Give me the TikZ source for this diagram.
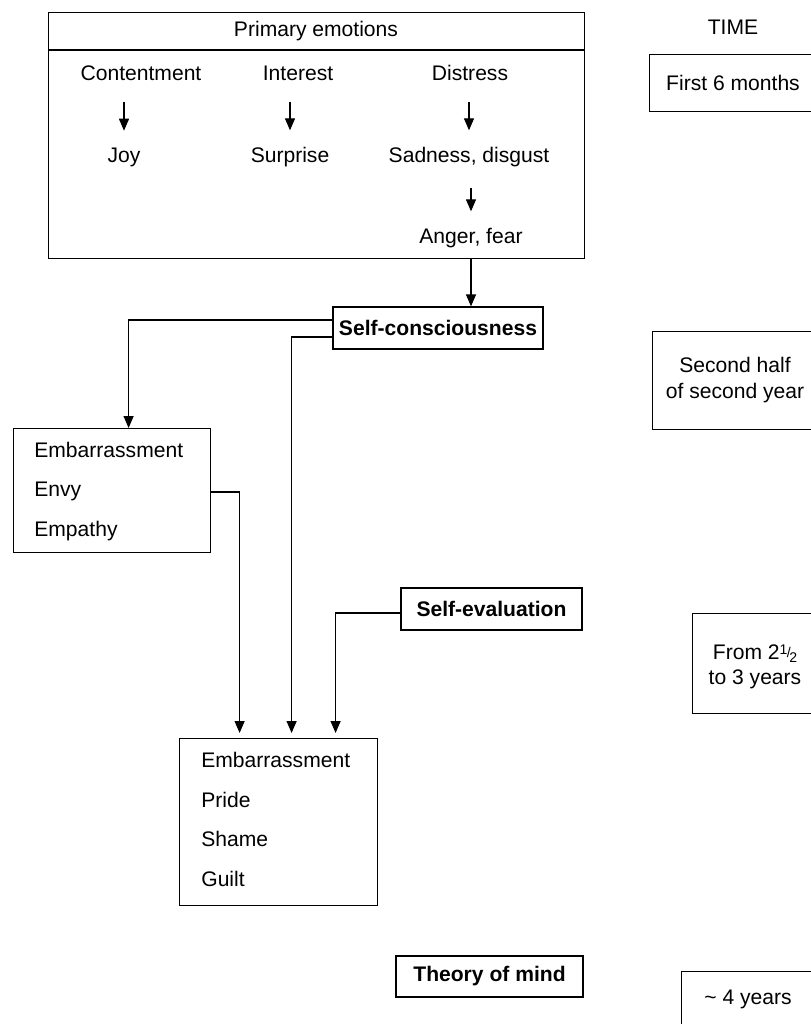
\documentclass[tikz,border=0pt]{standalone}
\usepackage{fontspec}
\setmainfont{Liberation Sans}
\usetikzlibrary{arrows.meta,positioning}

\tikzset{
  txt/.style={inner sep=0pt, font=\fontsize{12}{14.4}\selectfont},
  boldtxt/.style={inner sep=0pt, font=\fontsize{12}{14.4}\selectfont\bfseries},
  box/.style={draw, line width=0.7pt, inner sep=0pt},
  conn/.style={line width=0.7pt},
  arr/.style={line width=0.7pt, -{Triangle[length=0.24cm,width=0.2cm]}},
  inarr/.style={arr, shorten <=0.42cm, shorten >=0.33cm},
}

\begin{document}
\begin{tikzpicture}[x=0.02cm, y=-0.02cm]
\useasboundingbox (0,0) rectangle (811,1024);
\clip (0,0) rectangle (811,1024);

% primary emotions
\node[box, anchor=north west, minimum width=10.72cm, minimum height=4.92cm] (prim) at (48,12) {};
\draw[conn] ([yshift=-0.76cm]prim.north west) -- ([yshift=-0.76cm]prim.north east);
\node[txt] (head) at (316,31) {Primary emotions};
\node[txt] (cont) at (141,73) {Contentment};
\node[txt] (intr) at (298,73) {Interest};
\node[txt] (dist) at (470,73) {Distress};
\node[txt] (joy) at (124,157) {Joy};
\node[txt] (surp) at (290,157) {Surprise};
\node[txt] (sad) at (469,157) {Sadness, disgust};
\node[txt] (ang) at (471,238) {Anger, fear};
\draw[inarr] (cont.south -| joy) -- (joy.north);
\draw[inarr] (intr.south -| surp) -- (surp.north);
\draw[inarr] (dist.south -| sad) -- (sad.north);
\draw[inarr] (sad.south -| ang) -- (ang.north);

% self-consciousness
\node[box, boldtxt, minimum width=4.2cm, minimum height=0.84cm] (selfc) at (438,328) {Self-consciousness};
\draw[arr] (prim.south -| ang) -- (selfc.north -| ang);

% first self-conscious emotions
\node[box, anchor=north west, minimum width=3.94cm, minimum height=2.48cm] (emb1) at (13,428) {};
\node[txt, anchor=base west] (emba) at (34,457) {Embarrassment};
\node[txt, below=0.8cm of emba.base west, anchor=base west] (envy) {Envy};
\node[txt, below=0.8cm of envy.base west, anchor=base west] (empa) {Empathy};

% self-evaluation
\node[box, boldtxt, minimum width=3.62cm, minimum height=0.84cm] (selfe) at (491.5,609) {Self-evaluation};

% self-conscious evaluative emotions
\node[box, anchor=north west, minimum width=3.96cm, minimum height=3.34cm] (emb2) at (179,738) {};
\node[txt, anchor=base west] (embb) at (201,767) {Embarrassment};
\node[txt, below=0.8cm of embb.base west, anchor=base west] (prid) {Pride};
\node[txt, below=0.8cm of prid.base west, anchor=base west] (sham) {Shame};
\node[txt, below=0.8cm of sham.base west, anchor=base west] (guil) {Guilt};

\node[box, boldtxt, minimum width=3.74cm, minimum height=0.82cm] (tom) at (489.5,976.5) {Theory of mind};

% connectors
\draw[arr] ([yshift=0.16cm]selfc.west) -| ([xshift=0.33cm]emb1.north);
\draw[arr, shorten >=0.1cm] ([yshift=-0.18cm]selfc.west) -| ([xshift=0.26cm]emb2.north);
\draw[arr, shorten >=0.1cm] (envy -| emb1.east) -| ([xshift=-0.78cm]emb2.north);
\draw[arr, shorten >=0.1cm] ([yshift=-0.08cm]selfe.west) -| ([xshift=1.14cm]emb2.north);

% time column
\node[txt] (time) at (733,27) {TIME};
\node[box, anchor=north west, minimum width=3.62cm, minimum height=1.14cm] (tb1) at (649,54) {};
\node[txt] (t1) at (733,83) {First 6 months};
\node[box, anchor=north west, minimum width=3.56cm, minimum height=1.96cm] (tb2) at (652,331) {};
\node[txt, align=center] (t2) at (735,380) {Second half\\of second year};
\node[box, anchor=north west, minimum width=2.76cm, minimum height=2cm] (tb3) at (692,613) {};
\node[txt, align=center] (t3) at (755,667) {From 2{\footnotesize\raisebox{0.7ex}{1}\kern-0.05em\raisebox{0.25ex}{/}\kern-0.1em\raisebox{-0.35ex}{2}}\\to 3 years};
\node[box, anchor=north west, minimum width=2.98cm, minimum height=1.5cm] (tb4) at (681,971) {};
\node[txt] (t4) at (748,999) {\textasciitilde\ 4 years};
\end{tikzpicture}
\end{document}
